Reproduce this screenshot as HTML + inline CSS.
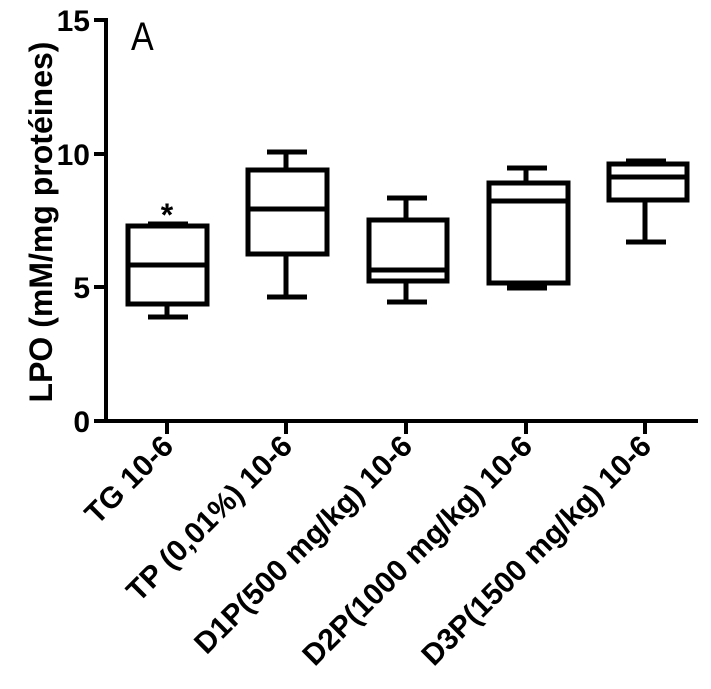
<!DOCTYPE html>
<html><head><style>body{margin:0;background:#fff}svg{display:block}</style></head><body>
<svg width="711" height="689" viewBox="0 0 711 689" xmlns="http://www.w3.org/2000/svg" font-family="Liberation Sans, sans-serif">
<g stroke="#000" stroke-width="4" fill="none">
<line x1="106" y1="18" x2="106" y2="423"/>
<line x1="104" y1="421" x2="698" y2="421"/>
<line x1="94" y1="20" x2="106" y2="20"/>
<line x1="94" y1="154" x2="106" y2="154"/>
<line x1="94" y1="287" x2="106" y2="287"/>
<line x1="94" y1="421" x2="106" y2="421"/>
<line x1="167" y1="421" x2="167" y2="434"/>
<line x1="286" y1="421" x2="286" y2="434"/>
<line x1="406" y1="421" x2="406" y2="434"/>
<line x1="526" y1="421" x2="526" y2="434"/>
<line x1="645" y1="421" x2="645" y2="434"/>
</g>
<g stroke="#000" stroke-width="5" fill="none">
<rect x="128" y="226" width="79" height="78"/><line x1="128" y1="265" x2="207" y2="265"/>
<line x1="167" y1="226" x2="167" y2="224"/><line x1="148" y1="224" x2="188" y2="224"/>
<line x1="167" y1="304" x2="167" y2="317"/><line x1="148" y1="317" x2="188" y2="317"/>

<rect x="248" y="170" width="79" height="84"/><line x1="248" y1="209" x2="327" y2="209"/>
<line x1="286" y1="170" x2="286" y2="152"/><line x1="267" y1="152" x2="307" y2="152"/>
<line x1="286" y1="254" x2="286" y2="297"/><line x1="267" y1="297" x2="307" y2="297"/>

<rect x="369" y="220" width="78" height="61"/><line x1="369" y1="270" x2="447" y2="270"/>
<line x1="406" y1="220" x2="406" y2="198"/><line x1="387" y1="198" x2="427" y2="198"/>
<line x1="406" y1="281" x2="406" y2="302"/><line x1="387" y1="302" x2="427" y2="302"/>

<rect x="489" y="183" width="79" height="100"/><line x1="489" y1="201" x2="568" y2="201"/>
<line x1="526" y1="183" x2="526" y2="168"/><line x1="507" y1="168" x2="547" y2="168"/>
<line x1="526" y1="283" x2="526" y2="288"/><line x1="507" y1="288" x2="547" y2="288"/>

<rect x="609" y="164" width="78" height="36"/><line x1="609" y1="177" x2="687" y2="177"/>
<line x1="645" y1="164" x2="645" y2="161"/><line x1="626" y1="161" x2="666" y2="161"/>
<line x1="645" y1="200" x2="645" y2="242"/><line x1="626" y1="242" x2="666" y2="242"/>
</g>
<g font-weight="bold" font-size="30" text-anchor="end">
<text x="90" y="31">15</text><text x="90" y="165">10</text><text x="90" y="298">5</text><text x="90" y="432">0</text>
</g>
<text x="131" y="50" font-size="40" transform="translate(131,50) scale(0.85,1) translate(-131,-50)">A</text>
<text x="167" y="226" font-size="32" font-weight="bold" text-anchor="middle">*</text>
<text transform="translate(52,222) rotate(-90)" font-size="32" font-weight="bold" text-anchor="middle">LPO (mM/mg protéines)</text>
<g font-weight="bold" font-size="30" text-anchor="end">
<text transform="translate(175,448) rotate(-45)">TG 10-6</text>
<text transform="translate(294,448) rotate(-45)">TP (0,01%) 10-6</text>
<text transform="translate(414,448) rotate(-45)">D1P(500 mg/kg) 10-6</text>
<text transform="translate(534,448) rotate(-45)">D2P(1000 mg/kg) 10-6</text>
<text transform="translate(653,448) rotate(-45)">D3P(1500 mg/kg) 10-6</text>
</g>
</svg>
</body></html>
